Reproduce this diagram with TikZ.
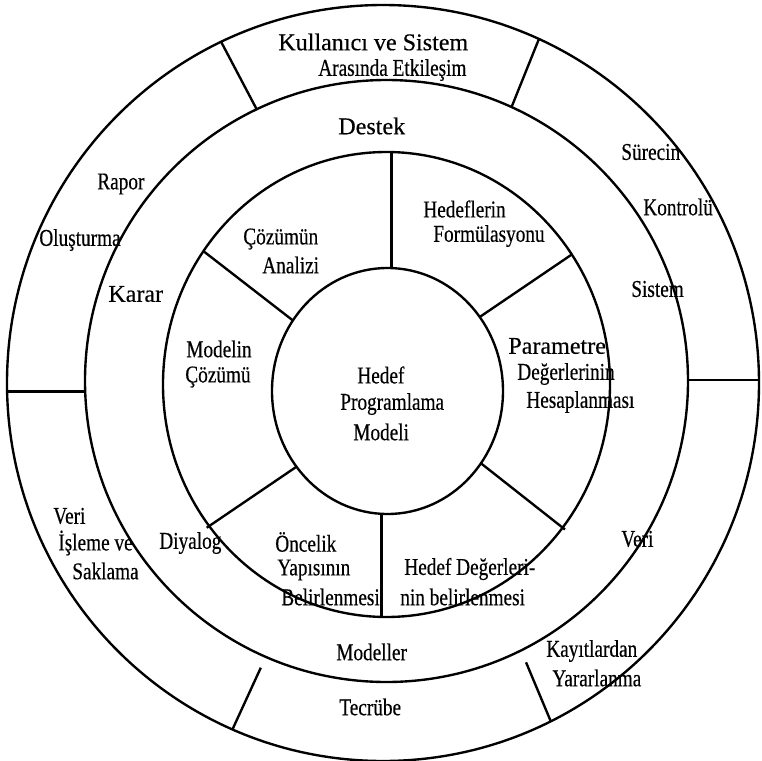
\documentclass[tikz,border=0pt]{standalone}
\usepackage{fontspec}
\setmainfont{Liberation Serif}[FakeBold=0.4]
\newfontfamily\condfont[FakeStretch=0.8,FakeBold=0.4]{Liberation Serif}
\usetikzlibrary{calc}
\tikzset{ring/.style={line width=1.35pt},
  lbl/.style={anchor=west,inner sep=0pt,font=\fontsize{13.7}{16}\selectfont},
  clbl/.style={lbl,font=\condfont\fontsize{13.7}{16}\selectfont}}

\begin{document}
\begin{tikzpicture}[x=0.02cm,y=-0.02cm]
\useasboundingbox (0,0) rectangle (762,761);
\coordinate (c1) at (383,383);
\coordinate (c2) at (386.5,381);
\coordinate (c3) at (386.5,384.5);
\coordinate (c4) at (387.5,391);
\draw[ring] (c1) ellipse [x radius=376,y radius=378];
\draw[ring] (c2) ellipse [x radius=301.5,y radius=301];
\draw[ring] (c3) ellipse [x radius=223.5,y radius=232.5];
\draw[ring] (c4) ellipse [x radius=115.5,y radius=123];
% outer ring dividers
\coordinate (tl2) at ($(c2)+(244.5:301.5 and 301)$);
\coordinate (tl1) at ($(c1)+(244.5:376 and 378)$);
\coordinate (tr2) at ($(c2)+(294.5:301.5 and 301)$);
\coordinate (tr1) at ($(c1)+(294.5:376 and 378)$);
\coordinate (bl2) at ($(c2)+(113.6:301.5 and 301)$);
\coordinate (bl1) at ($(c1)+(113.6:376 and 378)$);
\coordinate (br2) at ($(c2)+(63.5:301.5 and 301)$);
\coordinate (br1) at ($(c1)+(63.5:376 and 378)$);
\coordinate (ml2) at ($(c2)+(178:301.5 and 301)$);
\coordinate (ml1) at ($(c1)+(180:376 and 378)$);
\coordinate (mr2) at ($(c2)+(-0.2:301.5 and 301)$);
\coordinate (mr1) at ($(c1)+(0:376 and 378)$);
\draw[ring] (tl2) -- (tl1);
\draw[ring] (tr2) -- (tr1);
\draw[ring,shorten <=0.24cm] (bl2) -- (bl1);
\draw[ring,shorten <=0.26cm] (br2) -- (br1);
\draw[ring] (ml2) -- (ml2 -| ml1);
\draw[ring] (mr2) -- (mr2 -| mr1);
% inner ring dividers
\coordinate (up4) at ($(c4)+(272:115.5 and 123)$);
\coordinate (up3) at ($(c3)+(270:223.5 and 232.5)$);
\coordinate (dn4) at ($(c4)+(93:115.5 and 123)$);
\coordinate (dn3) at ($(c3)+(90:223.5 and 232.5)$);
\coordinate (ul4) at ($(c4)+(215:115.5 and 123)$);
\coordinate (ul3) at ($(c3)+(215:223.5 and 232.5)$);
\coordinate (ur4) at ($(c4)+(323:115.5 and 123)$);
\coordinate (ur3) at ($(c3)+(326:223.5 and 232.5)$);
\coordinate (ll4) at ($(c4)+(142:115.5 and 123)$);
\coordinate (ll3) at ($(c3)+(142.5:223.5 and 232.5)$);
\coordinate (lr4) at ($(c4)+(36:115.5 and 123)$);
\coordinate (lr3) at ($(c3)+(38:223.5 and 232.5)$);
\draw[ring] (up4) -- (up4 |- up3);
\draw[ring] (dn4) -- (dn4 |- dn3);
\draw[ring] (ul4) -- (ul3);
\draw[ring] (ur4) -- (ur3);
\draw[ring,shorten >=-0.06cm] (ll4) -- (ll3);
\draw[ring,shorten >=-0.06cm] (lr4) -- (lr3);
% outer ring
\node[lbl] (kul) at (278,42) {Kullanıcı ve Sistem};
\node[clbl] (ara) at (318,70) {Arasında Etkileşim};
\node[clbl] (rap) at (97,184) {Rapor};
\node[clbl] (olu) at (39,240) {Oluşturma};
\node[clbl] (sur) at (621,152) {Sürecin};
\node[clbl] (kon) at (643,207) {Kontrolü};
\node[clbl] (ver1) at (53,516) {Veri};
\node[clbl] (isl) at (58,543) {İşleme ve};
\node[clbl] (sak) at (72,571) {Saklama};
\node[clbl] (kay) at (546,651) {Kayıtlardan};
\node[clbl] (yar) at (552,678) {Yararlanma};
\node[clbl] (tec) at (339,707) {Tecrübe};
% middle ring
\node[lbl] (des) at (338,126) {Destek};
\node[lbl] (kar) at (108,294) {Karar};
\node[clbl] (sis) at (631,289) {Sistem};
\node[clbl] (diy) at (159,543) {Diyalog};
\node[clbl] (ver2) at (621,539) {Veri};
\node[clbl] (mod) at (336,652) {Modeller};
% inner ring
\node[clbl] (coz) at (243,239) {Çözümün};
\node[clbl] (ana) at (262,265) {Analizi};
\node[clbl] (hed) at (423,209) {Hedeflerin};
\node[clbl] (for) at (433,236) {Formülasyonu};
\node[clbl] (mdl) at (186,349) {Modelin};
\node[clbl] (czm) at (185,377) {Çözümü};
\node[lbl] (par) at (508,346) {Parametre};
\node[clbl] (deg) at (517,374) {Değerlerinin};
\node[clbl] (hes) at (526,402) {Hesaplanması};
\node[clbl] (onc) at (275,542) {Öncelik};
\node[clbl] (yap) at (277,570) {Yapısının};
\node[clbl] (bel) at (281,597) {Belirlenmesi};
\node[clbl] (hdg) at (404,569) {Hedef Değerleri-};
\node[clbl] (nin) at (400,597) {nin belirlenmesi};
% centre
\node[clbl] (hp1) at (357,375) {Hedef};
\node[clbl] (hp2) at (340,404) {Programlama};
\node[clbl] (hp3) at (353,432) {Modeli};
\end{tikzpicture}
\end{document}
